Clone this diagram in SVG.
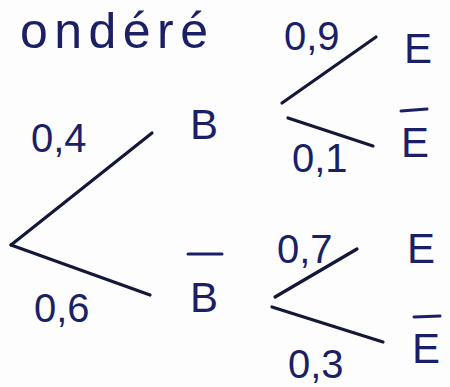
<svg xmlns="http://www.w3.org/2000/svg" width="450" height="387" viewBox="0 0 450 387">
<style>
.ink{fill:#1b1f66;font-family:"Liberation Sans",Arial,sans-serif;}
.t{font-size:42px;}
.n{font-size:40px;}
.br{stroke:#141838;stroke-width:3.2;stroke-linecap:round;fill:none;}
.bar{stroke:#1b1f66;stroke-width:3;stroke-linecap:round;}
</style>
<rect width="450" height="387" fill="#fdfdfd"/>
<text class="ink" font-size="50" x="20" y="48" textLength="188" lengthAdjust="spacing">ondéré</text>
<g id="connectors">
<line class="br" x1="11" y1="245" x2="152" y2="133"/>
<line class="br" x1="11" y1="245" x2="150" y2="295"/>
<line class="br" x1="282" y1="103" x2="376" y2="37"/>
<line class="br" x1="288" y1="118" x2="373" y2="146"/>
<line class="br" x1="275" y1="297" x2="357" y2="249"/>
<line class="br" x1="272" y1="307" x2="383" y2="342"/>
</g>
<g id="lbl-04"><text class="ink n" x="31" y="152">0,4</text></g>
<g id="lbl-06"><text class="ink n" x="34" y="322">0,6</text></g>
<g id="node-B"><text class="ink t" x="190" y="139">B</text></g>
<g id="node-Bbar"><line class="bar" x1="188" y1="254" x2="222" y2="254"/><text class="ink t" x="190" y="312">B</text></g>
<g id="lbl-09"><text class="ink n" x="284" y="50">0,9</text></g>
<g id="node-E1"><text class="ink t" x="404" y="63">E</text></g>
<g id="lbl-01"><text class="ink n" x="292" y="172">0,1</text></g>
<g id="node-Ebar1"><line class="bar" x1="401" y1="111" x2="427" y2="109"/><text class="ink t" x="401" y="157">E</text></g>
<g id="lbl-07"><text class="ink n" x="277" y="263">0,7</text></g>
<g id="node-E2"><text class="ink t" x="407" y="263">E</text></g>
<g id="lbl-03"><text class="ink n" x="288" y="378">0,3</text></g>
<g id="node-Ebar2"><line class="bar" x1="414" y1="317" x2="440" y2="316"/><text class="ink t" x="412" y="363">E</text></g>
</svg>
